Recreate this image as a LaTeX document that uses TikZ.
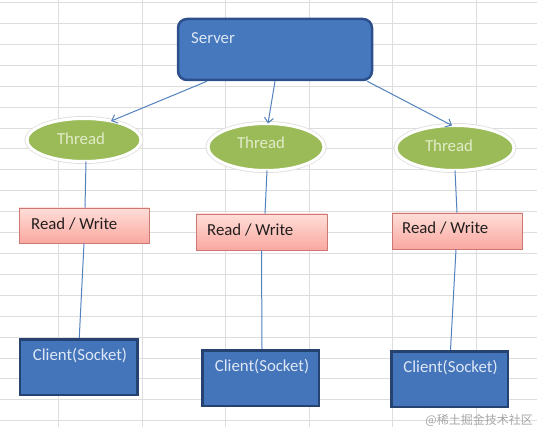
\documentclass[tikz,border=0pt]{standalone}
\usepackage{fontspec}
\setmainfont{Carlito}
\newfontfamily\cjk{Noto Sans CJK SC}
\usetikzlibrary{shapes.geometric,arrows.meta}
\definecolor{gridc}{RGB}{221,221,221}
\definecolor{srvfill}{RGB}{70,120,190}
\definecolor{srvdraw}{RGB}{45,80,140}
\definecolor{clifill}{RGB}{68,116,186}
\definecolor{clidraw}{RGB}{38,66,112}
\definecolor{thrfill}{RGB}{155,187,89}
\definecolor{thrtext}{RGB}{226,236,200}
\definecolor{lighttext}{RGB}{222,232,246}
\definecolor{rwtop}{RGB}{255,222,216}
\definecolor{rwbot}{RGB}{249,168,160}
\definecolor{rwdraw}{RGB}{205,120,115}
\definecolor{conn}{RGB}{82,130,190}
\definecolor{darktext}{RGB}{35,30,30}
\tikzset{
  gridline/.style={draw=gridc, line width=1pt},
  srvbox/.style={rectangle, rounded corners=9pt, fill=srvfill, draw=srvdraw, line width=2.5pt},
  clibox/.style={rectangle, fill=clifill, draw=clidraw, line width=2.5pt},
  thr/.style={ellipse, fill=thrfill, draw=white, line width=3pt, outer sep=0pt},
  thrglow/.style={ellipse, draw=black!12, line width=1pt},
  rwbox/.style={rectangle, top color=rwtop, bottom color=rwbot, draw=rwdraw, line width=0.8pt},
  lbl/.style={inner sep=0pt, font=\fontsize{16.8}{20}\selectfont},
  arr/.style={draw=conn, line width=1pt, -{Straight Barb[length=5pt,width=9pt]}},
  lnk/.style={draw=conn, line width=1pt}
}
\begin{document}
\begin{tikzpicture}[x=1pt,y=-1pt]
\useasboundingbox (0,0) rectangle (537,427);
\fill[white] (0,0) rectangle (537,427);
\foreach \i in {0,...,5} \draw[gridline] (58.5+83.5*\i,0) -- (58.5+83.5*\i,427);
\foreach \j in {0,...,20} \draw[gridline] (0,2.7+20.9*\j) -- (537,2.7+20.9*\j);

% server
\node[srvbox, minimum width=194pt, minimum height=61pt] (srv) at (275,49.5) {};
\node[lbl, anchor=west, text=lighttext] (srvt) at (191,38) {Server};

% threads
\node[thrglow, minimum width=118pt, minimum height=47pt] (g1) at (84,140) {};
\node[thr, minimum width=114pt, minimum height=43pt] (t1) at (84,140) {};
\node[thrglow, minimum width=120pt, minimum height=51pt] (g2) at (266,147) {};
\node[thr, minimum width=116pt, minimum height=47pt] (t2) at (266,147) {};
\node[thrglow, minimum width=122pt, minimum height=49pt] (g3) at (455,148) {};
\node[thr, minimum width=118pt, minimum height=45pt] (t3) at (455,148) {};
\node[lbl, text=thrtext] (t1t) at (81,139) {Thread};
\node[lbl, text=thrtext] (t2t) at (261,143) {Thread};
\node[lbl, text=thrtext] (t3t) at (449,146) {Thread};

% read / write
\node[rwbox, minimum width=130pt, minimum height=35pt] (rw1) at (84,225.5) {};
\node[rwbox, minimum width=131pt, minimum height=36pt] (rw2) at (261.5,232) {};
\node[rwbox, minimum width=130pt, minimum height=36pt] (rw3) at (457,231) {};
\node[lbl, anchor=west, text=darktext] (rw1t) at (31,224) {Read / Write};
\node[lbl, anchor=west, text=darktext] (rw2t) at (207,230) {Read / Write};
\node[lbl, anchor=west, text=darktext] (rw3t) at (402,228) {Read / Write};

% clients
\node[clibox, minimum width=117.5pt, minimum height=55.5pt] (c1) at (78.75,367) {};
\node[clibox, minimum width=116.5pt, minimum height=55.5pt] (c2) at (260.5,378) {};
\node[clibox, minimum width=116.5pt, minimum height=55.5pt] (c3) at (449.5,379) {};
\node[lbl, text=lighttext] (c1t) at (80,356) {Client(Socket)};
\node[lbl, text=lighttext] (c2t) at (262,367) {Client(Socket)};
\node[lbl, text=lighttext] (c3t) at (450.5,368) {Client(Socket)};

% arrows
\draw[arr] ([xshift=-68pt]srv.south) -- (t1.35);
\draw[arr] (srv.south) -- ([xshift=2pt]t2.north);
\draw[arr] ([xshift=-6pt]srv.south east) -- ([xshift=-3pt]t3.north);

% links
\draw[lnk] ([xshift=2pt]t1.south) -- ([xshift=1pt]rw1.north);
\draw[lnk] (rw1.south) -- ([xshift=0.5pt]c1.north);
\draw[lnk] ([xshift=1pt]t2.south) -- ([xshift=3.5pt]rw2.north);
\draw[lnk] (rw2.south) -- ([xshift=1.5pt]c2.north);
\draw[lnk] (t3.south) -- (rw3.north);
\draw[lnk] ([xshift=-1pt]rw3.south) -- ([xshift=1pt]c3.north);

% watermark
\node[anchor=east, inner sep=0pt, text=black!35, font=\cjk\fontsize{12}{14}\selectfont] (wm) at (533,420) {@稀土掘金技术社区};
\end{tikzpicture}
\end{document}
